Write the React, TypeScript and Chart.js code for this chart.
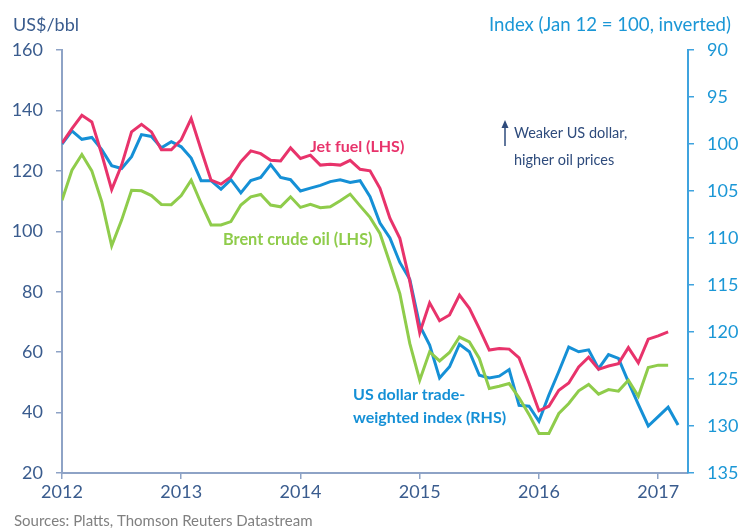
import { useEffect, useRef } from "react";
import { Chart, registerables } from "chart.js";

Chart.register(...registerables);

// Monthly data, Jan 2012 onward
const yearTicks = [2012, 2013, 2014, 2015, 2016, 2017];
const leftTicks = [20, 40, 60, 80, 100, 120, 140, 160];
const rightTicks = [90, 95, 100, 105, 110, 115, 120, 125, 130, 135];

const jetFuel = [
  129.2, 134, 138.4, 136.2, 125.5, 113.8, 121.9, 132.9, 135.4, 132.9, 127, 127,
  130.3, 137.3, 127, 116.9, 115.6, 118, 123, 126.6, 125.7, 123.5, 123.3, 127.6,
  124.1, 125.2, 121.9, 122.2, 121.9, 123.5, 120.5, 120, 114.2, 104.3, 97.7, 83.5,
  66.4, 76.3, 70.4, 72.3, 78.9, 74.5, 67.8, 60.7, 61.2, 61.0, 58.1, 49.6,
  40.6, 42.1, 47.4, 49.8, 55.1, 58.3, 54.3, 55.4, 56.2, 61.5, 56.5, 64.3,
  65.4, 66.7,
];

const brent = [
  110.3, 120.2, 125.4, 120, 109.8, 95.2, 103.7, 113.6, 113.4, 111.8, 108.9, 108.8,
  111.8, 116.9, 109.2, 102.1, 102.1, 103.2, 108.7, 111.4, 112.2, 108.7, 108.1, 111.4,
  107.9, 108.9, 107.8, 108.1, 110.1, 112.3, 108.4, 104.6, 99.3, 89.5, 79.4, 62.9,
  50.7, 60.1, 57.1, 59.9, 65.0, 63.4, 57.9, 48.0, 48.7, 49.6, 44.9, 39.4,
  33.1, 33.1, 39.7, 43.0, 47.2, 49.3, 46.1, 47.6, 47.1, 50.7, 45.4, 54.9,
  55.7, 55.7,
];

const usdIndex = [
  100, 98.6, 99.5, 99.3, 100.6, 102.3, 102.6, 101.35, 99.0, 99.2, 100.4, 99.75,
  100.3, 101.5, 103.9, 103.9, 104.8, 103.8, 105.2, 103.9, 103.55, 102.2, 103.55, 103.8,
  105.0, 104.7, 104.4, 104.0, 103.8, 104.1, 103.9, 105.6, 108.4, 110.0, 112.6, 114.4,
  119.3, 121.4, 124.9, 123.7, 121.3, 122.1, 124.6, 124.9, 124.7, 124.0, 127.8, 127.9,
  129.5, 126.7, 124.2, 121.6, 122.1, 121.9, 123.9, 122.4, 122.8, 125.3, 127.7, 130.0,
  129.0, 128.0, 129.9,
];

const FONT = "Lato, 'Open Sans', sans-serif";
const PINK = "#E8336B";
const GREEN = "#8FCC4B";
const BLUE = "#1590D6";
const NAVY = "#3A5C8E";
const LEFT_AXIS = "#8EA3C6";
const RIGHT_AXIS = "#3FA3DE";
const RIGHT_TEXT = "#1B97D6";

const toPoints = (arr: number[]) => arr.map((v, i) => ({ x: i, y: v }));

const textPlugin = {
  id: "texts",
  afterDraw(chart: any) {
    const ctx = chart.ctx as CanvasRenderingContext2D;
    ctx.save();
    ctx.textBaseline = "middle";
    const put = (t: string, x: number, y: number, font: string, color: string, align: CanvasTextAlign = "left") => {
      ctx.font = font;
      ctx.fillStyle = color;
      ctx.textAlign = align;
      ctx.fillText(t, x, y);
    };
    put("US$/bbl", 13, 25, `18px ${FONT}`, NAVY);
    put("Index (Jan 12 = 100, inverted)", 731, 25, `18.6px ${FONT}`, RIGHT_TEXT, "right");
    put("Jet fuel (LHS)", 310, 147, `bold 16px ${FONT}`, PINK);
    put("Brent crude oil (LHS)", 223, 240, `bold 16.3px ${FONT}`, GREEN);
    put("US dollar trade-", 353, 395, `bold 16px ${FONT}`, BLUE);
    put("weighted index (RHS)", 353, 418, `bold 16px ${FONT}`, BLUE);
    put("Weaker US dollar,", 514, 133, `14.5px ${FONT}`, "#2E4B7C");
    put("higher oil prices", 514, 160, `14.5px ${FONT}`, "#2E4B7C");
    put("Sources: Platts, Thomson Reuters Datastream", 14, 521, `15px ${FONT}`, "#808080");
    // arrow
    ctx.strokeStyle = "#2E4B7C";
    ctx.fillStyle = "#2E4B7C";
    ctx.lineWidth = 1.5;
    ctx.beginPath();
    ctx.moveTo(505, 146);
    ctx.lineTo(505, 126);
    ctx.stroke();
    ctx.beginPath();
    ctx.moveTo(505, 120);
    ctx.lineTo(501.5, 128);
    ctx.lineTo(508.5, 128);
    ctx.closePath();
    ctx.fill();
    ctx.restore();
  },
};

export default function App() {
  const ref = useRef<HTMLCanvasElement | null>(null);
  useEffect(() => {
    if (!ref.current) return;
    const chart = new Chart(ref.current, {
      type: "line",
      data: {
        datasets: [
          { label: "Jet fuel (LHS)", data: toPoints(jetFuel), borderColor: PINK, borderWidth: 3, pointRadius: 0, yAxisID: "y", tension: 0 },
          { label: "Brent crude oil (LHS)", data: toPoints(brent), borderColor: GREEN, borderWidth: 3, pointRadius: 0, yAxisID: "y", tension: 0 },
          { label: "US dollar trade-weighted index (RHS)", data: toPoints(usdIndex), borderColor: BLUE, borderWidth: 3, pointRadius: 0, yAxisID: "y2", tension: 0 },
        ],
      },
      options: {
        animation: false,
        responsive: false,
        devicePixelRatio: 1,
        layout: { padding: { top: 50, left: 0, right: 0, bottom: 0 } },
        plugins: { legend: { display: false }, tooltip: { enabled: false } },
        scales: {
          x: {
            type: "linear",
            min: 0,
            max: 63,
            afterBuildTicks: (s: any) => {
              s.ticks = yearTicks.map((y) => ({ value: (y - yearTicks[0]) * 12 }));
            },
            afterFit: (s: any) => {
              s.height = 56;
            },
            ticks: {
              callback: (v: any) => String(yearTicks[0] + Number(v) / 12),
              color: NAVY,
              font: { family: FONT, size: 18 },
              padding: 2,
              maxRotation: 0,
              autoSkip: false,
            },
            grid: { drawOnChartArea: false, drawTicks: true, tickLength: 6, color: LEFT_AXIS, lineWidth: 1.5 },
            border: { display: true, color: LEFT_AXIS, width: 2 },
          },
          y: {
            position: "left",
            min: 20,
            max: 160,
            afterBuildTicks: (s: any) => {
              s.ticks = leftTicks.map((v) => ({ value: v }));
            },
            afterFit: (s: any) => {
              s.width = 62;
            },
            ticks: { color: NAVY, font: { family: FONT, size: 18 }, padding: 13 },
            grid: { drawOnChartArea: false, drawTicks: true, tickLength: 6, color: LEFT_AXIS, lineWidth: 1.5 },
            border: { display: true, color: LEFT_AXIS, width: 2 },
          },
          y2: {
            position: "right",
            reverse: true,
            min: 90,
            max: 135,
            afterBuildTicks: (s: any) => {
              s.ticks = rightTicks.map((v) => ({ value: v }));
            },
            afterFit: (s: any) => {
              s.width = 50;
            },
            ticks: { color: RIGHT_TEXT, font: { family: FONT, size: 18 }, padding: 13 },
            grid: { drawOnChartArea: false, drawTicks: true, tickLength: 6, color: RIGHT_AXIS, lineWidth: 1.5 },
            border: { display: true, color: RIGHT_AXIS, width: 2 },
          },
        },
      },
      plugins: [textPlugin],
    } as any);
    return () => chart.destroy();
  }, []);
  return (
    <div style={{ position: "absolute", left: 0, top: 0, width: 738, height: 529, background: "#fff" }}>
      <canvas ref={ref} width={738} height={529} style={{ display: "block", width: 738, height: 529 }} />
    </div>
  );
}
